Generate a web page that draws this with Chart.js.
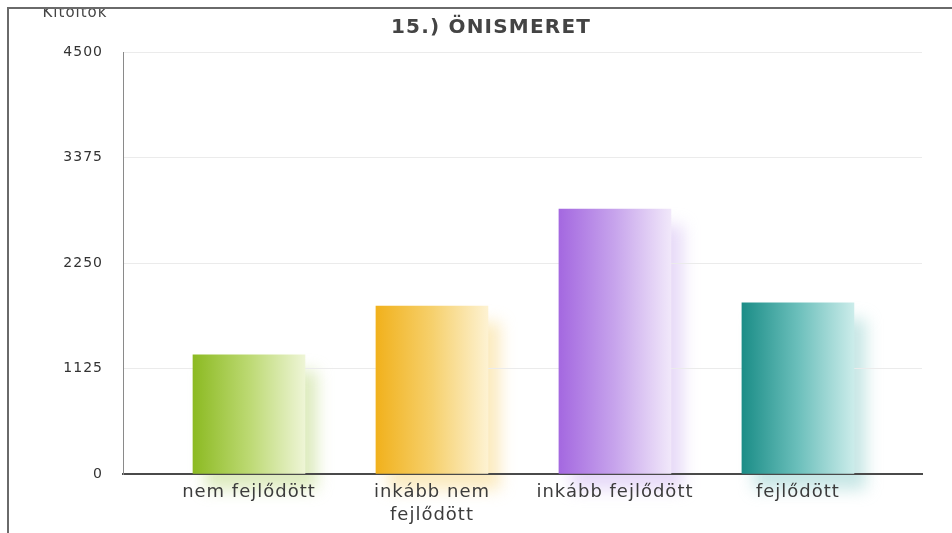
<!DOCTYPE html>
<html>
<head>
<meta charset="utf-8">
<script src="https://cdn.jsdelivr.net/npm/chart.js@4.4.1/dist/chart.umd.min.js"></script>
<style>
    body { margin: 0; background: #fff; }
    #frame { position: absolute; left: 7px; top: 7px; width: 945px; height: 526px; border-top: 2px solid #6a6a6a; border-left: 2px solid #6a6a6a; }
    #wrap { position: absolute; left: 9px; top: 9px; width: 943px; height: 524px; }
</style>
</head>
<body>
<div id="frame"></div>
<div id="wrap"><canvas id="myChart"></canvas></div>
<script>
// adatok
const categories = [['nem fejlődött'], ['inkább nem', 'fejlődött'], ['inkább fejlődött'], ['fejlődött']];
const values = [1270, 1790, 2825, 1825];
const yTicks = [0, 1125, 2250, 3375, 4500];
const chartTitle = '15.) ÖNISMERET';
const yTitle = 'Kitöltők';

// szinek (bal -> jobb atmenet) es arnyek
const barLeftColors = ['#8cba22', '#f1b11c', '#a468e0', '#1b8d87'];
const barMidColors = ['#bcd972', '#f6d06c', '#c7a4ec', '#6bbfbb'];
const barRightColors = ['#eef5d6', '#fdf2d2', '#f1e8fa', '#cbecea'];
const shadowColors = ['rgba(175,208,100,0.42)', 'rgba(246,204,100,0.42)', 'rgba(205,178,240,0.48)', 'rgba(120,196,194,0.42)'];

const barWidth = 112;
const fontName = '"DejaVu Sans", Verdana, sans-serif';

function barGradient(c) {
    const xs = c.chart.scales.x;
    const i = c.dataIndex;
    if (!xs || i === undefined) return barLeftColors[0];
    const cx = xs.getPixelForValue(i);
    if (!isFinite(cx)) return barLeftColors[i];
    const g = c.chart.ctx.createLinearGradient(cx - barWidth / 2, 0, cx + barWidth / 2, 0);
    g.addColorStop(0, barLeftColors[i]);
    g.addColorStop(0.5, barMidColors[i]);
    g.addColorStop(1, barRightColors[i]);
    return g;
}

// elmosott arnyek az oszlopok mogott + betukoz
const shadowPlugin = {
    id: 'shadows',
    beforeDraw: function (chart) {
        const ctx = chart.ctx;
        ctx.letterSpacing = '1px';
        const meta = chart.getDatasetMeta(0);
        ctx.save();
        ctx.filter = 'blur(8px)';
        meta.data.forEach(function (bar, i) {
            ctx.fillStyle = shadowColors[i];
            ctx.fillRect(bar.x - bar.width / 2 + 12, bar.y + 16, bar.width, bar.base - bar.y);
        });
        ctx.restore();
    }
};

// cim es tengelyfelirat
const textPlugin = {
    id: 'texts',
    afterDraw: function (chart) {
        const ctx = chart.ctx;
        ctx.save();
        ctx.fillStyle = '#444';
        ctx.textAlign = 'center';
        ctx.textBaseline = 'alphabetic';
        ctx.letterSpacing = '1.2px';
        ctx.font = 'bold 20px ' + fontName;
        ctx.fillText(chartTitle, 482, 24);
        ctx.letterSpacing = '1px';
        ctx.font = '15px ' + fontName;
        ctx.fillText(yTitle, 66, 8);
        ctx.restore();
    }
};

const config = {
    type: 'bar',
    data: {
        datasets: [{
            label: 'Kitöltők',
            data: values.map((v, i) => ({ x: i, y: v })),
            backgroundColor: barGradient,
            borderWidth: 0,
            barThickness: barWidth
        }]
    },
    options: {
        animation: false,
        responsive: true,
        maintainAspectRatio: false,
        layout: { padding: { top: 43, right: 30, left: 0, bottom: 0 } },
        scales: {
            x: {
                type: 'linear',
                offset: false,
                min: -0.6885,
                max: 3.678,
                afterBuildTicks: function (scale) {
                    scale.ticks = categories.map((c, i) => ({ value: i }));
                },
                afterFit: function (scale) { scale.height = 59; },
                grid: { display: false, drawTicks: false, offset: false },
                border: { color: '#4a4a4a', width: 2 },
                ticks: {
                    autoSkip: false,
                    maxRotation: 0,
                    minRotation: 0,
                    padding: 7,
                    color: '#3c3c3c',
                    font: { family: fontName, size: 18, lineHeight: 1.26 },
                    callback: function (value) { return categories[value]; }
                }
            },
            y: {
                min: 0,
                max: 4500,
                afterBuildTicks: function (scale) {
                    scale.ticks = yTicks.map(v => ({ value: v }));
                },
                afterFit: function (scale) { scale.width = 114; },
                grid: { color: '#ebebeb', drawTicks: false },
                border: { color: '#8a8a8a', width: 1 },
                ticks: {
                    padding: 20,
                    color: '#333',
                    font: { family: fontName, size: 14 },
                    callback: function (value) { return String(value); }
                }
            }
        },
        plugins: {
            legend: { display: false },
            tooltip: { enabled: false }
        }
    },
    plugins: [shadowPlugin, textPlugin]
};

new Chart(document.getElementById('myChart'), config);
</script>
</body>
</html>
